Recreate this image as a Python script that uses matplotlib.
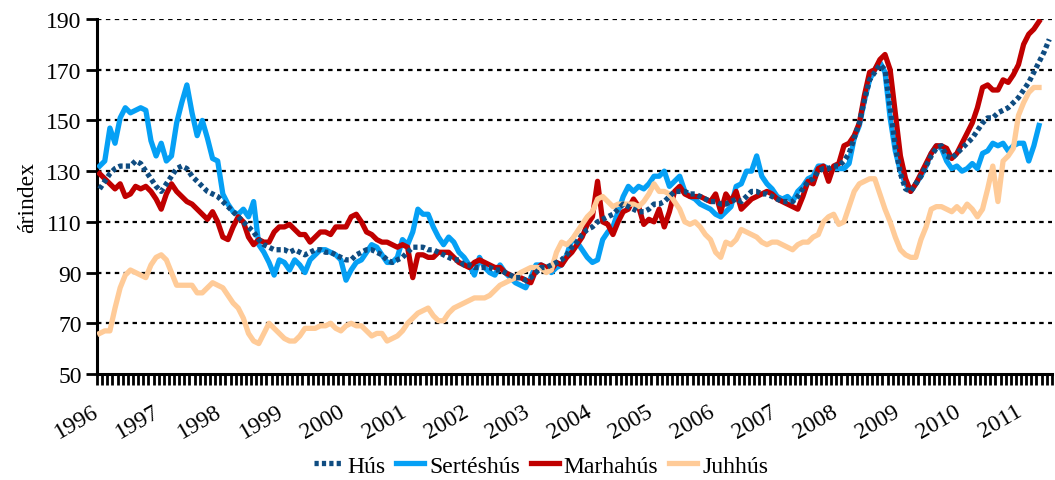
import matplotlib
matplotlib.use("Agg")
import matplotlib.pyplot as plt
import numpy as np
from matplotlib.ticker import FixedLocator

# monthly index values, Jan 1996 onward
YEARS = [str(y) for y in range(1996, 2012)]
N_MONTHS = 186

hus = [
    123, 126, 129, 131, 132, 132, 132, 134, 133, 130, 127, 124,
    122, 125, 128, 131, 132, 131, 128, 126, 124, 122, 121, 120,
    118, 116, 114, 112, 110, 108, 106, 103, 101, 100, 99, 99,
    99, 98, 99, 98, 97, 98, 99, 99, 98, 98, 97, 96,
    95, 95, 97, 98, 99, 99, 98, 97, 95, 94, 95, 96,
    98, 100, 100, 100, 99, 99, 98, 97, 96, 95, 95, 93,
    93, 92, 92, 92, 92, 91, 91, 90, 89, 88, 88, 87,
    88, 90, 92, 92, 93, 94, 95, 97, 100, 102, 105, 107,
    108, 110, 111, 112, 113, 115, 117, 116, 115, 114, 114, 115,
    117, 117, 118, 120, 122, 122, 122, 121, 121, 120, 119, 118,
    118, 117, 117, 118, 119, 118, 120, 122, 122, 121, 121, 120,
    119, 118, 118, 118, 120, 123, 126, 127, 130, 131, 131, 132,
    132, 134, 137, 143, 149, 158, 166, 169, 172, 170, 155, 140,
    129, 123, 122, 125, 128, 132, 136, 139, 140, 136, 135, 137,
    139, 141, 143, 146, 149, 151, 151, 153, 154, 155, 157, 159,
    162, 165, 169, 173, 177, 182,
]

sertes = [
    132, 134, 147, 141, 151, 155, 153, 154, 155, 154, 142, 136,
    141, 134, 136, 149, 157, 164, 153, 144, 150, 143, 135, 134,
    121, 117, 114, 113, 115, 112, 118, 101, 98, 94, 89, 95,
    94, 91, 95, 93, 90, 95, 97, 99, 99, 98, 97, 95,
    87, 91, 94, 95, 98, 101, 100, 97, 94, 94, 96, 103,
    101, 106, 115, 113, 113, 108, 104, 101, 104, 102, 98, 96,
    93, 89, 96, 92, 90, 89, 93, 90, 88, 86, 85, 84,
    88, 93, 93, 92, 90, 92, 93, 97, 103, 102, 99, 96,
    94, 95, 103, 106, 108, 114, 120, 124, 122, 124, 123, 125,
    128, 128, 130, 124, 126, 128, 122, 120, 119, 117, 116, 115,
    113, 112, 114, 116, 124, 125, 130, 130, 136, 128, 125, 123,
    120, 119, 120, 118, 122, 124, 127, 128, 132, 132, 131, 131,
    131, 131, 133, 143, 148, 158, 166, 170, 173, 169, 151, 138,
    130, 125, 122, 125, 128, 132, 137, 140, 139, 134, 131, 132,
    130, 131, 133, 131, 137, 138, 141, 140, 141, 138, 140, 141,
    141, 134, 140, 148,
]

marha = [
    129, 127, 125, 123, 125, 120, 121, 124, 123, 124, 122, 119,
    115, 121, 125, 122, 120, 118, 117, 115, 113, 111, 114, 110,
    104, 103, 108, 112, 110, 104, 101, 103, 102, 102, 106, 108,
    108, 109, 107, 105, 105, 102, 104, 106, 106, 105, 108, 108,
    108, 112, 113, 110, 106, 105, 103, 102, 102, 101, 100, 101,
    100, 88, 97, 97, 96, 96, 98, 98, 98, 96, 94, 93,
    92, 94, 95, 94, 93, 92, 92, 90, 89, 88, 88, 87,
    86, 91, 93, 92, 91, 94, 93, 96, 98, 101, 104, 109,
    112, 126, 110, 109, 105, 110, 114, 115, 119, 116, 109, 111,
    110, 115, 108, 114, 122, 124, 121, 120, 120, 120, 119, 118,
    121, 114, 121, 118, 122, 115, 117, 119, 120, 121, 122, 121,
    119, 118, 117, 116, 115, 120, 126, 125, 131, 132, 126, 132,
    133, 140, 141, 144, 149, 160, 169, 170, 174, 176, 170, 153,
    136, 127, 122, 125, 129, 133, 137, 140, 140, 139, 135, 137,
    141, 145, 149, 155, 163, 164, 162, 162, 166, 165, 168, 172,
    180, 184, 186, 189,
]

juh = [
    66, 67, 67, 76, 84, 89, 91, 90, 89, 88, 93, 96,
    97, 95, 90, 85, 85, 85, 85, 82, 82, 84, 86, 85,
    84, 81, 78, 76, 72, 66, 63, 62, 66, 70, 68, 66,
    64, 63, 63, 65, 68, 68, 68, 69, 69, 70, 68, 67,
    69, 70, 69, 69, 67, 65, 66, 66, 63, 64, 65, 67,
    70, 72, 74, 75, 76, 73, 71, 71, 74, 76, 77, 78,
    79, 80, 80, 80, 81, 83, 85, 86, 87, 88, 90, 91,
    92, 92, 92, 90, 91, 98, 102, 101, 103, 106, 109, 112,
    114, 119, 120, 118, 116, 117, 117, 117, 117, 116, 118, 121,
    125, 122, 122, 121, 118, 115, 110, 109, 110, 108, 105, 103,
    98, 96, 102, 101, 103, 107, 106, 105, 104, 102, 101, 102,
    102, 101, 100, 99, 101, 102, 102, 104, 105, 110, 112, 113,
    109, 110, 116, 122, 125, 126, 127, 127, 121, 115, 110, 104,
    99, 97, 96, 96, 103, 108, 115, 116, 116, 115, 114, 116,
    114, 117, 115, 112, 115, 123, 132, 118, 134, 136, 139, 152,
    157, 161, 163, 163,
]

C_HUS = "#0F4C81"
C_SERTES = "#05A0F5"
C_MARHA = "#C00000"
C_JUH = "#FFCB98"

plt.rcParams["font.family"] = ["Liberation Serif", "DejaVu Serif"]
FS = 17

fig = plt.figure(figsize=(10.55, 4.81), dpi=100)
ax = fig.add_axes([0.092, 0.2204, 0.905, 0.738])

lw = 3.8
ax.plot(np.arange(len(sertes)), sertes, color=C_SERTES, lw=lw, label="Sertéshús", zorder=3)
ax.plot(np.arange(len(marha)), marha, color=C_MARHA, lw=lw, label="Marhahús", zorder=4)
ax.plot(np.arange(len(juh)), juh, color=C_JUH, lw=lw, label="Juhhús", zorder=5)
ax.plot(np.arange(len(hus)), hus, color=C_HUS, lw=lw, ls=(0, (0.8, 0.6)),
        dash_capstyle="butt", label="Hús", zorder=6)

ax.set_xlim(-0.5, N_MONTHS - 0.5)
ax.set_ylim(50, 190)
ax.set_yticks(range(50, 191, 20))
for y in range(70, 191, 20):
    ax.axhline(y, color="black", lw=1.6, ls=(0, (2, 2)), zorder=1)

ax.set_xticks(np.arange(0, N_MONTHS, 12))
ax.set_xticklabels(YEARS, rotation=30, ha="right", va="baseline",
                   rotation_mode="anchor", fontsize=FS)
ax.xaxis.set_minor_locator(FixedLocator(np.arange(-0.5, N_MONTHS, 1)))
ax.tick_params(axis="x", which="major", length=0, pad=29)
ax.tick_params(axis="x", which="minor", length=8, width=2.0, direction="out")
ax.tick_params(axis="y", which="major", length=8, width=2.0, labelsize=FS, pad=3)

for side in ["top", "right"]:
    ax.spines[side].set_visible(False)
ax.spines["left"].set_linewidth(2.2)
ax.spines["bottom"].set_linewidth(2.2)

ax.set_ylabel("árindex", fontsize=FS, labelpad=6)

handles, labels = ax.get_legend_handles_labels()
order = [3, 0, 1, 2]
fig.legend([handles[i] for i in order], [labels[i] for i in order],
           loc="lower center", bbox_to_anchor=(0.513, -0.037), ncol=4, frameon=False,
           fontsize=FS, handlelength=1.2, handletextpad=0.2, columnspacing=0.45)

fig.savefig("out.png", dpi=100)
